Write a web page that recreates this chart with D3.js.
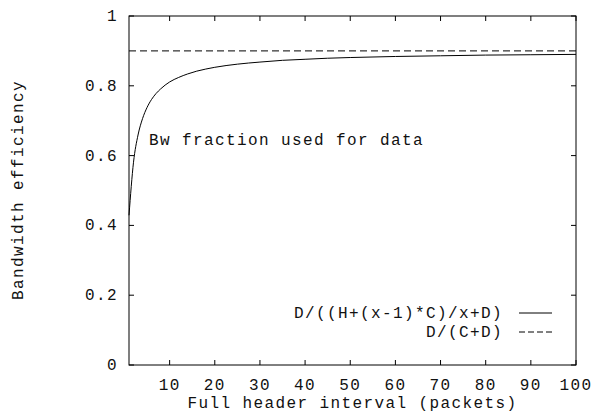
<!DOCTYPE html>
<html>
<head>
<meta charset="utf-8">
<script src="https://cdn.jsdelivr.net/npm/d3@7"></script>
<style>
  body { margin: 0; background: #fff; }
  text { font-family: "Liberation Mono", "DejaVu Sans Mono", monospace; font-size: 16px; letter-spacing: 1.4px; fill: #111; }
</style>
</head>
<body>
<div id="app"></div>
<script>
// values
const intervals = [1, 2, 3, 4, 5, 6, 7, 8, 9, 10, 12, 14, 16, 18, 20, 25, 30, 35, 40, 45, 50, 60, 70, 80, 90, 100]
const efficiency = [0.429, 0.581, 0.659, 0.706, 0.738, 0.761, 0.778, 0.791, 0.802, 0.811, 0.824, 0.834, 0.842, 0.848, 0.853, 0.862, 0.868, 0.873, 0.876, 0.879, 0.881, 0.884, 0.886, 0.888, 0.889, 0.890]
const limit = 0.9
const xTicks = [10, 20, 30, 40, 50, 60, 70, 80, 90, 100]
const yTicks = [0, 0.2, 0.4, 0.6, 0.8, 1]
const legendLabels = ["D/((H+(x-1)*C)/x+D)", "D/(C+D)"]

const width = 593,
  height = 411,
  plotLeft = 129,
  plotRight = 576,
  plotTop = 16,
  plotBottom = 365,
  tickLen = 5;

const svg = d3.select("#app")
  .append("svg")
  .attr("width", width)
  .attr("height", height)

const x = d3.scaleLinear().domain([1, 100]).range([plotLeft, plotRight])
const y = d3.scaleLinear().domain([0, 1]).range([plotBottom, plotTop])

// frame
svg.append("rect")
  .attr("x", plotLeft)
  .attr("y", plotTop)
  .attr("width", plotRight - plotLeft)
  .attr("height", plotBottom - plotTop)
  .attr("fill", "none")
  .attr("stroke", "#000")
  .attr("stroke-width", 1)

// x ticks, bottom and top (mirrored)
const xt = svg.selectAll(".xtick")
  .data(xTicks)
  .enter()
  .append("g")
  .attr("class", "xtick")
xt.append("line")
  .attr("x1", d => x(d)).attr("x2", d => x(d))
  .attr("y1", plotBottom).attr("y2", plotBottom - tickLen)
  .attr("stroke", "#000")
xt.append("line")
  .attr("x1", d => x(d)).attr("x2", d => x(d))
  .attr("y1", plotTop).attr("y2", plotTop + tickLen)
  .attr("stroke", "#000")
xt.append("text")
  .attr("x", d => x(d))
  .attr("y", 390)
  .attr("text-anchor", "middle")
  .text(d => d)

// y ticks, left and right
const yt = svg.selectAll(".ytick")
  .data(yTicks)
  .enter()
  .append("g")
  .attr("class", "ytick")
yt.append("line")
  .attr("x1", plotLeft).attr("x2", plotLeft + tickLen)
  .attr("y1", d => y(d)).attr("y2", d => y(d))
  .attr("stroke", "#000")
yt.append("line")
  .attr("x1", plotRight).attr("x2", plotRight - tickLen)
  .attr("y1", d => y(d)).attr("y2", d => y(d))
  .attr("stroke", "#000")
yt.append("text")
  .attr("x", 118)
  .attr("y", d => y(d) + 5)
  .attr("text-anchor", "end")
  .text(d => d)

// axis titles
svg.append("text")
  .attr("x", (plotLeft + plotRight) / 2)
  .attr("y", 408)
  .attr("text-anchor", "middle")
  .text("Full header interval (packets)")

svg.append("text")
  .attr("transform", "translate(23," + 190 + ") rotate(-90)")
  .attr("text-anchor", "middle")
  .text("Bandwidth efficiency")

// curves
const line = d3.line()
  .x(d => x(d[0]))
  .y(d => y(d[1]))
  .curve(d3.curveMonotoneX)

svg.append("path")
  .datum(intervals.map((v, i) => [v, efficiency[i]]))
  .attr("d", line)
  .attr("fill", "none")
  .attr("stroke", "#000")
  .attr("stroke-width", 1)

svg.append("line")
  .attr("x1", x(1)).attr("x2", x(100))
  .attr("y1", y(limit)).attr("y2", y(limit))
  .attr("stroke", "#000")
  .attr("stroke-dasharray", "7,4")

// label inside plot
svg.append("text")
  .attr("x", 149)
  .attr("y", 145)
  .text("Bw fraction used for data")

// legend
const legend = svg.selectAll(".legend-item")
  .data(legendLabels)
  .enter()
  .append("g")
  .attr("class", "legend-item")
  .attr("transform", (d, i) => "translate(0," + (313 + i * 19) + ")")
legend.append("text")
  .attr("x", 503)
  .attr("y", 5)
  .attr("text-anchor", "end")
  .text(d => d)
legend.append("line")
  .attr("x1", 519).attr("x2", 552)
  .attr("y1", 0).attr("y2", 0)
  .attr("stroke", "#000")
  .attr("stroke-dasharray", (d, i) => i == 0 ? null : "6,3")
</script>
</body>
</html>
